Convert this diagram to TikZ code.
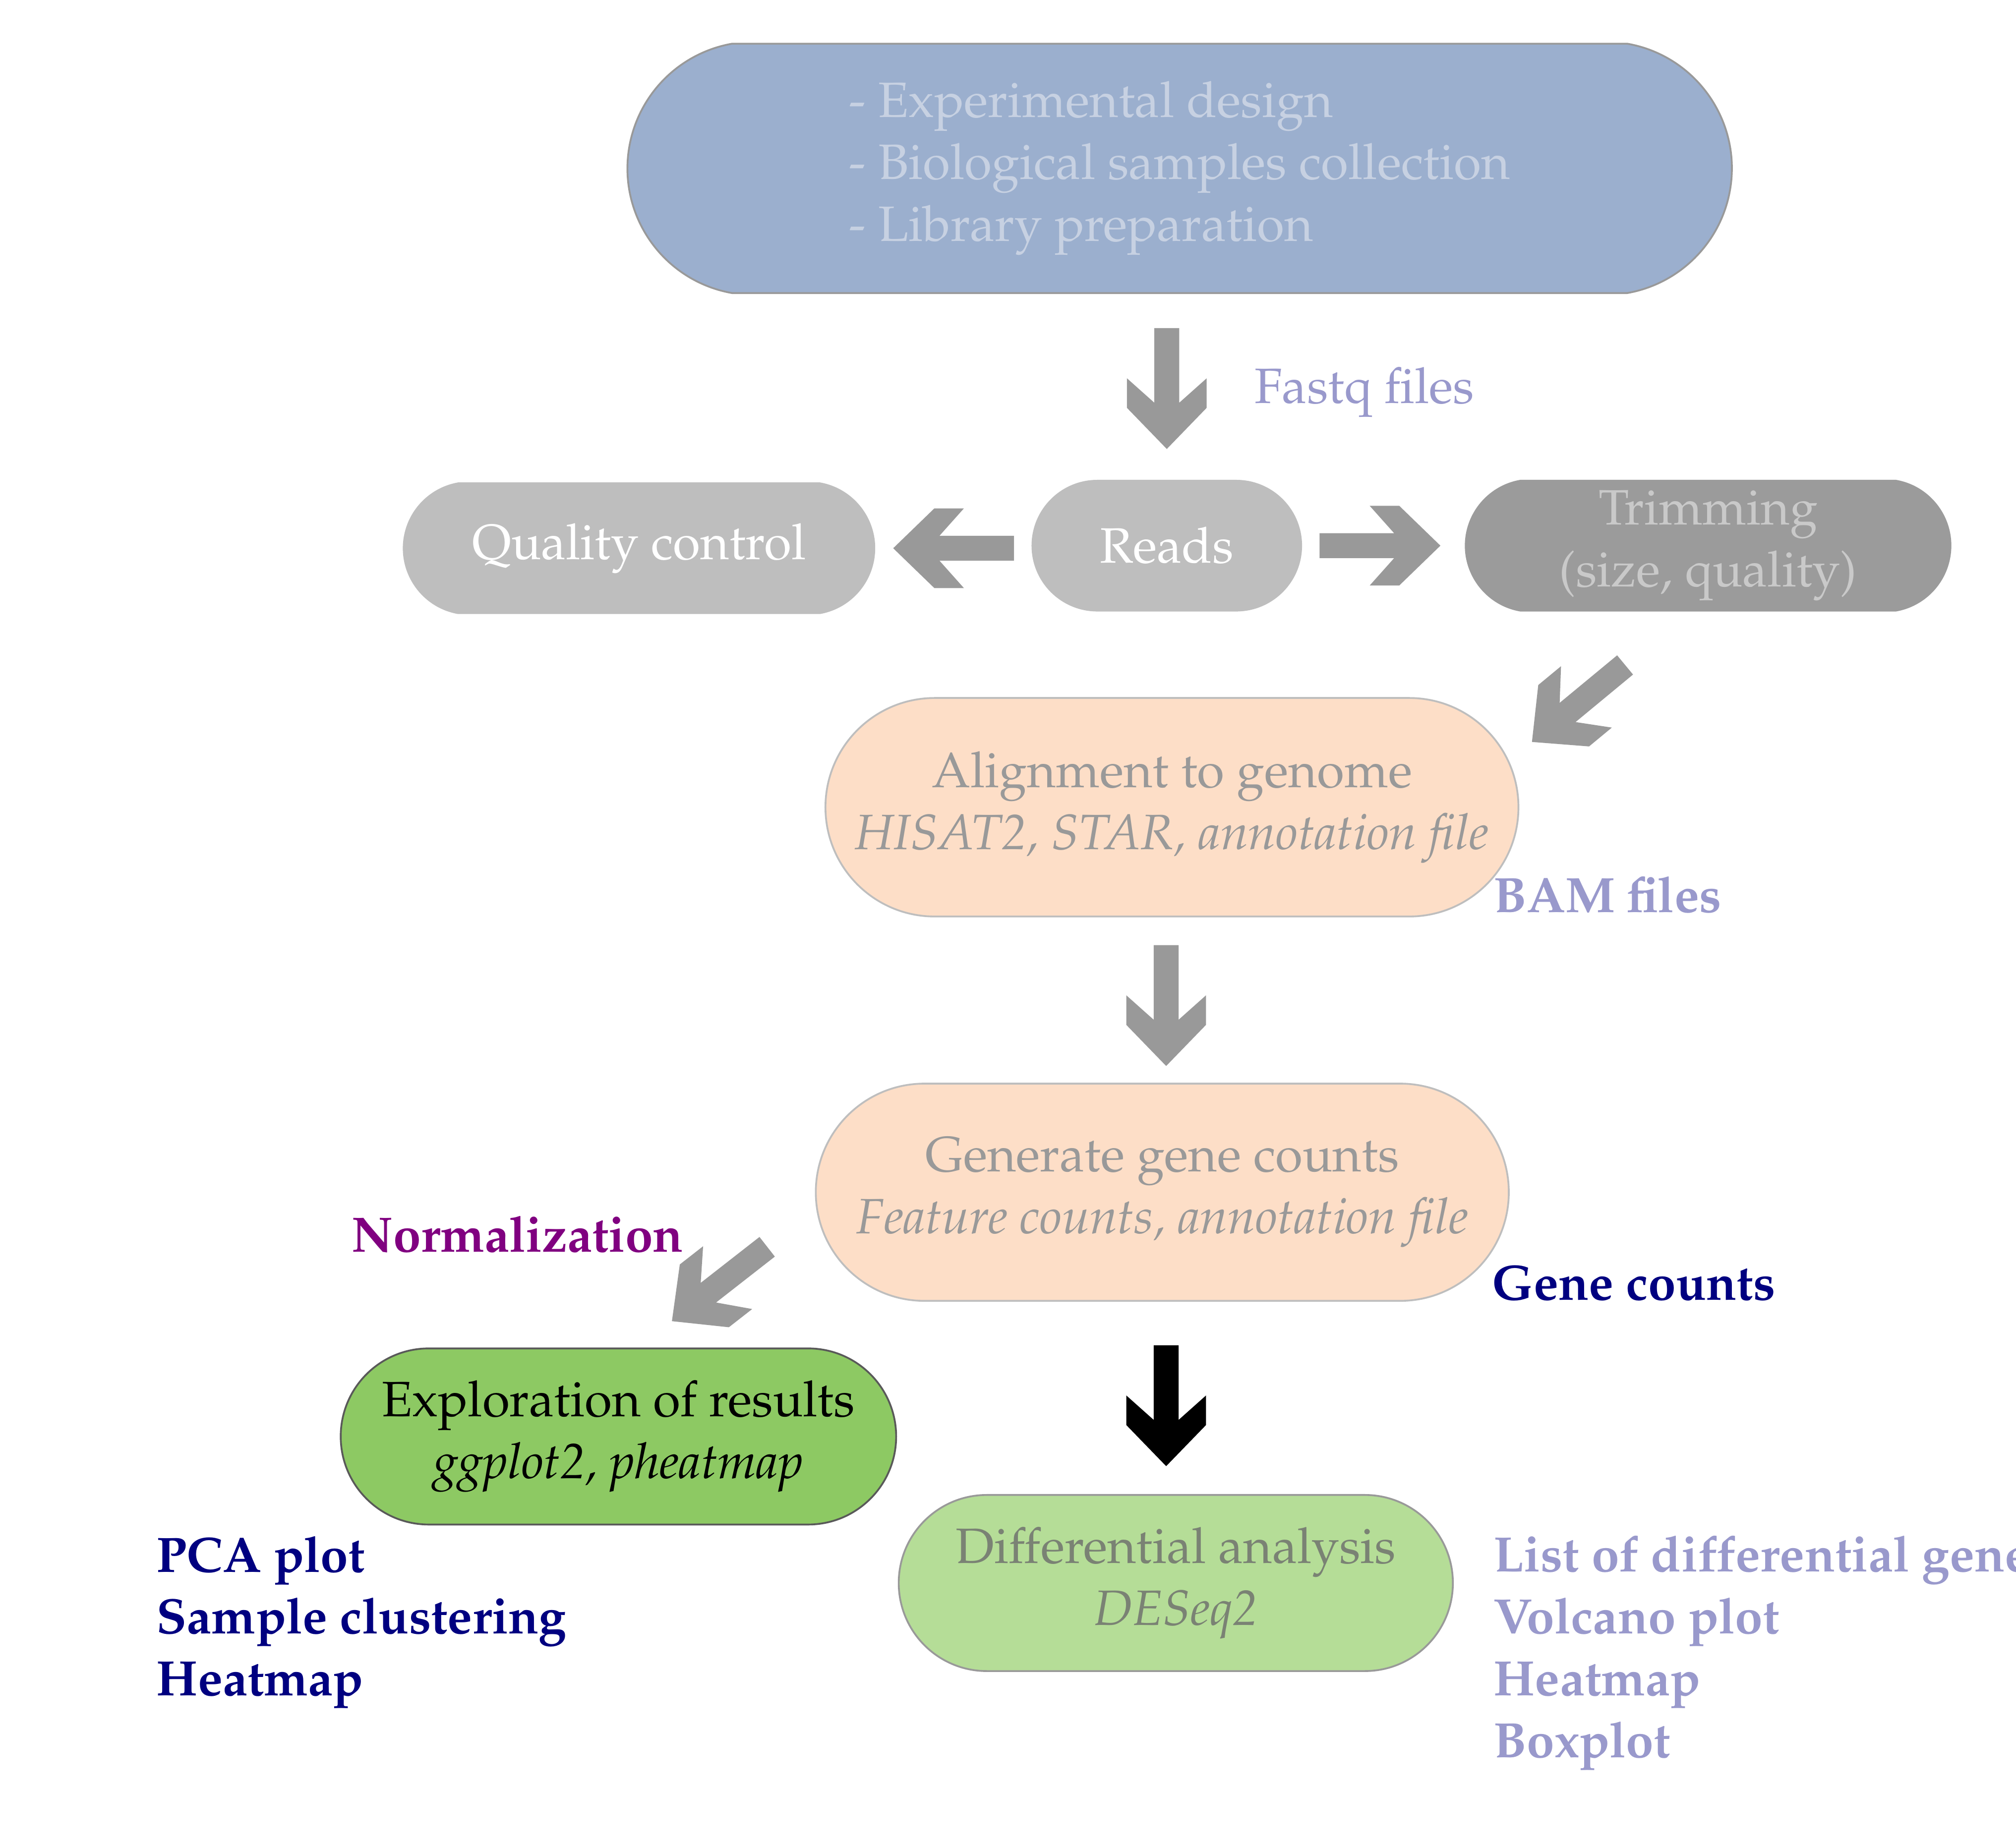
\documentclass[tikz,border=0pt]{standalone}
\usepackage[T1]{fontenc}
\usepackage{mathpazo}
\usepackage{xcolor}
\usetikzlibrary{shapes.misc,positioning,calc}

\definecolor{designblue}{RGB}{155,175,206}
\definecolor{designtext}{RGB}{199,209,226}
\definecolor{readgray}{RGB}{190,190,190}
\definecolor{trimgray}{RGB}{155,155,155}
\definecolor{trimtext}{RGB}{201,201,201}
\definecolor{peach}{RGB}{253,222,199}
\definecolor{steptext}{RGB}{153,153,153}
\definecolor{exploregreen}{RGB}{141,201,99}
\definecolor{diffgreen}{RGB}{181,221,151}
\definecolor{difftext}{RGB}{122,130,116}
\definecolor{lavender}{RGB}{153,153,204}
\definecolor{navyblue}{RGB}{0,0,128}
\definecolor{normpurple}{RGB}{128,0,128}
\definecolor{arrowgray}{RGB}{153,153,153}

\tikzset{
  pill/.style={rounded rectangle, draw, line width=0.4pt, inner sep=0pt, align=center},
  flat/.style={rounded rectangle arc length=160},
  chevron/.pic={
    \path[pic actions] (0,0) -- (-0.32,0.31) -- (-0.55,0.31) -- (-0.36,0.097)
      -- (-0.94,0.097) -- (-0.94,-0.097) -- (-0.36,-0.097) -- (-0.55,-0.31)
      -- (-0.32,-0.31) -- cycle;
  }
}

\begin{document}
\begin{tikzpicture}[font=\fontsize{11}{13.7}\selectfont]
    \useasboundingbox (0,0) rectangle (15.68,-14.373);

    % Steps
    \node[pill, flat, fill=designblue, draw=steptext, text=designtext, align=left,
          minimum width=8.59cm, minimum height=1.94cm] (design) at (9.175,-1.31)
        {- Experimental design\\- Biological samples collection\\- Library preparation};
    \node[pill, flat, fill=readgray, draw=readgray, text=white,
          minimum width=3.66cm, minimum height=1.01cm] (qc) at (4.97,-4.265) {Quality control};
    \node[pill, fill=readgray, draw=readgray, text=white,
          minimum width=2.09cm, minimum height=1.01cm] (reads) at (9.075,-4.245) {Reads};
    \node[pill, flat, fill=trimgray, draw=trimgray, text=trimtext,
          minimum width=3.77cm, minimum height=1.01cm] (trim) at (13.285,-4.245) {Trimming\\(size, quality)};
    \node[pill, fill=peach, draw=readgray, text=steptext,
          minimum width=5.39cm, minimum height=1.70cm] (align) at (9.115,-6.28)
        {Alignment to genome\\\textit{HISAT2, STAR, annotation file}};
    \node[pill, fill=peach, draw=readgray, text=steptext,
          minimum width=5.39cm, minimum height=1.69cm] (counts) at (9.04,-9.275)
        {Generate gene counts\\\textit{Feature counts, annotation file}};
    \node[pill, fill=exploregreen, draw=black!65, text=black,
          minimum width=4.32cm, minimum height=1.37cm] (explore) at (4.81,-11.175)
        {Exploration of results\\\textit{ggplot2, pheatmap}};
    \node[pill, fill=diffgreen, draw=steptext, text=difftext,
          minimum width=4.31cm, minimum height=1.37cm] (diff) at (9.145,-12.315)
        {Differential analysis\\\textit{DESeq2}};

    % Arrows
    \pic[fill=arrowgray, rotate=-90] at ($(reads.north)+(0,0.24)$) {chevron};
    \pic[fill=arrowgray, rotate=180] at ($(qc.east)+(0.14,0)$) {chevron};
    \pic[fill=arrowgray] at ($(trim.west)+(-0.19,0)$) {chevron};
    \pic[fill=arrowgray, rotate=219.6] at ($(align.center)+(2.80,0.508)$) {chevron};
    \pic[fill=arrowgray, rotate=-90] at ($(counts.north)+(0.03,0.13)$) {chevron};
    \pic[fill=arrowgray, rotate=218] at ($(explore.north)+(0.416,0.205)$) {chevron};
    \pic[fill=black, rotate=-90] at ($(diff.north)+(-0.075,0.217)$) {chevron};

    % Labels
    \node[anchor=west, text=lavender, inner sep=0pt] (fastq) at (9.75,-3.05) {Fastq files};
    \node[anchor=west, text=lavender, inner sep=0pt, font=\fontsize{11}{13.7}\selectfont\bfseries] (bam) at (11.61,-6.96) {BAM files};
    \node[anchor=west, text=normpurple, inner sep=0pt, font=\fontsize{11}{13.7}\selectfont\bfseries] (norm) at (2.73,-9.60) {Normalization};
    \node[anchor=west, text=navyblue, inner sep=0pt, font=\fontsize{11}{13.7}\selectfont\bfseries] (genecounts) at (11.60,-9.98) {Gene counts};
    \node[anchor=west, text=navyblue, inner sep=0pt, align=left, font=\fontsize{11}{13.7}\selectfont\bfseries] (qcplots) at (1.21,-12.62)
        {PCA plot\\Sample clustering\\Heatmap};
    \node[anchor=west, text=lavender, inner sep=0pt, align=left, font=\fontsize{11}{13.7}\selectfont\bfseries] (deplots) at (11.61,-12.86)
        {List of differential genes\\Volcano plot\\Heatmap\\Boxplot};
\end{tikzpicture}
\end{document}
